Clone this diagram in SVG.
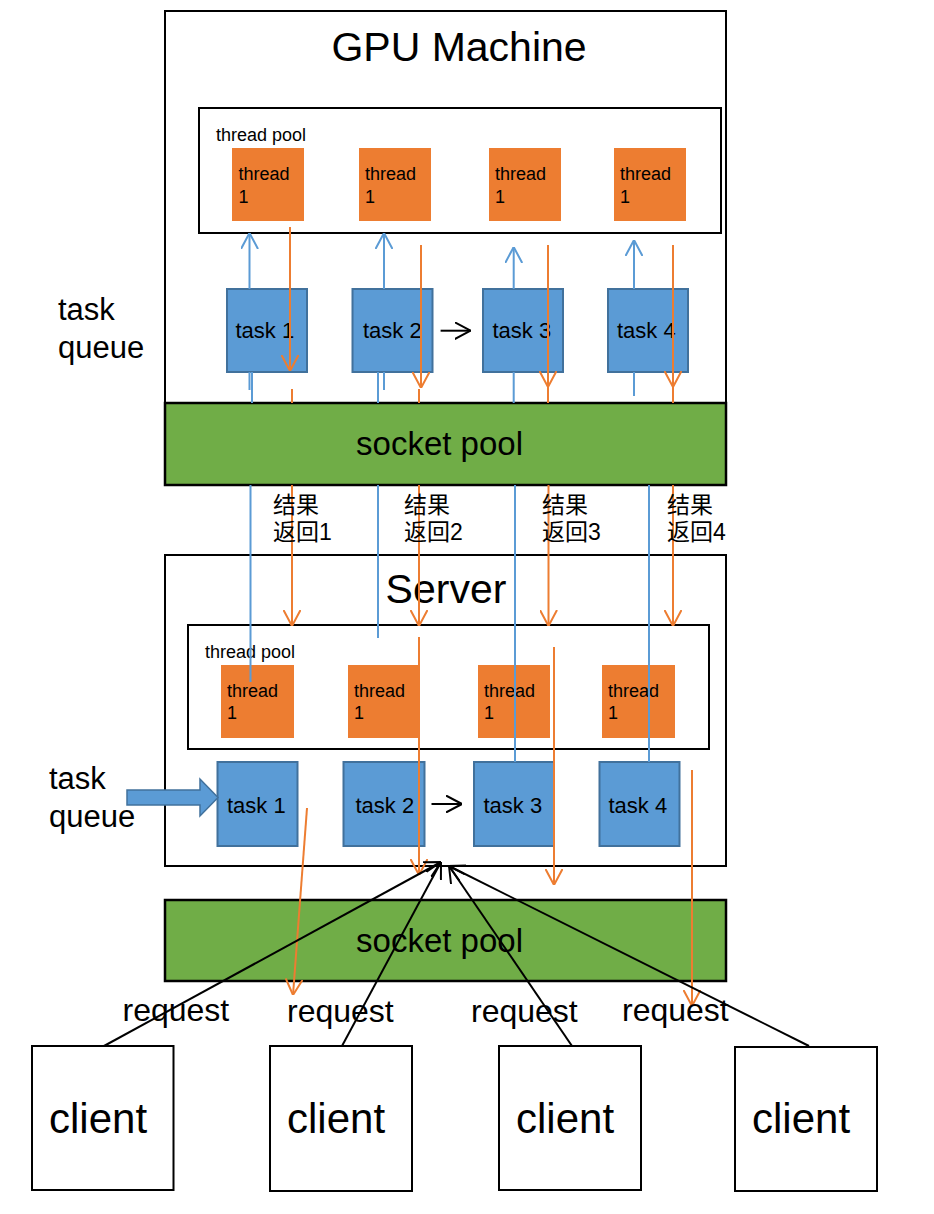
<svg xmlns="http://www.w3.org/2000/svg" width="934" height="1214" viewBox="0 0 934 1214">
<style>
text{font-family:"Liberation Sans","Noto Sans CJK SC",Arial,sans-serif;fill:#000}
.box{fill:#fff;stroke:#000;stroke-width:2}
.pool{fill:#70ad47;stroke:#000;stroke-width:2.5}
.thr{fill:#ed7d31}
.task{fill:#5b9bd5;stroke:#41719c;stroke-width:2}
.o{stroke:#ed7d31;stroke-width:2;fill:none}
.b{stroke:#5b9bd5;stroke-width:2;fill:none}
.k{stroke:#000;stroke-width:2;fill:none}
.title{font-size:41px;text-anchor:middle}
.pl{font-size:33px;text-anchor:middle}
.tp{font-size:18px}
.th{font-size:18px}
.tk{font-size:22px}
.big{font-size:31px}
.cl{font-size:42px}
.rq{font-size:32px}
.cn{font-size:23px}
</style>
<defs>
<marker id="ao" viewBox="0 0 16 18" refX="16" refY="9" markerWidth="16" markerHeight="18" markerUnits="userSpaceOnUse" orient="auto"><path d="M0,0.5 L16,9 L0,17.5" fill="none" stroke="#ed7d31" stroke-width="2"/></marker>
<marker id="ab" viewBox="0 0 16 18" refX="16" refY="9" markerWidth="16" markerHeight="18" markerUnits="userSpaceOnUse" orient="auto"><path d="M0,0.5 L16,9 L0,17.5" fill="none" stroke="#5b9bd5" stroke-width="2"/></marker>
<marker id="ak" viewBox="0 0 16 18" refX="16" refY="9" markerWidth="16" markerHeight="18" markerUnits="userSpaceOnUse" orient="auto"><path d="M0,0.5 L16,9 L0,17.5" fill="none" stroke="#000" stroke-width="2"/></marker>
</defs>

<g id="gpu-machine">
<rect class="box" x="165" y="11" width="561" height="474"/>
<text class="title" x="459" y="61">GPU Machine</text>
</g>
<g id="gpu-thread-pool">
<rect class="box" x="199" y="108" width="522" height="125"/>
<text class="tp" x="216" y="141">thread pool</text>
</g>
<g id="gpu-thread-1"><rect class="thr" x="232" y="148" width="72" height="73"/><text class="th" x="238.5" y="180">thread</text><text class="th" x="238.5" y="203">1</text></g>
<g id="gpu-thread-2"><rect class="thr" x="359" y="148" width="72" height="73"/><text class="th" x="365" y="180">thread</text><text class="th" x="365" y="203">1</text></g>
<g id="gpu-thread-3"><rect class="thr" x="489" y="148" width="72" height="73"/><text class="th" x="495" y="180">thread</text><text class="th" x="495" y="203">1</text></g>
<g id="gpu-thread-4"><rect class="thr" x="614" y="148" width="72" height="73"/><text class="th" x="620" y="180">thread</text><text class="th" x="620" y="203">1</text></g>
<g id="gpu-task-1"><rect class="task" x="227" y="289" width="80" height="83"/><text class="tk" x="235.5" y="338">task 1</text></g>
<g id="gpu-task-2"><rect class="task" x="352.5" y="289" width="80" height="83"/><text class="tk" x="363" y="338">task 2</text></g>
<g id="gpu-task-3"><rect class="task" x="483" y="289" width="80" height="83"/><text class="tk" x="492.5" y="338">task 3</text></g>
<g id="gpu-task-4"><rect class="task" x="608" y="289" width="80" height="83"/><text class="tk" x="617" y="338">task 4</text></g>
<g id="gpu-task-queue-label"><text class="big" x="58" y="320">task</text><text class="big" x="58" y="358">queue</text></g>
<g id="gpu-socket-pool"><rect class="pool" x="165" y="403" width="561" height="82"/><text class="pl" x="439.5" y="455">socket pool</text></g>

<g id="server">
<rect class="box" x="165" y="555" width="561" height="311"/>
<text class="title" x="446" y="603">Server</text>
</g>
<g id="server-thread-pool">
<rect class="box" x="188" y="625" width="521" height="124"/>
<text class="tp" x="205" y="658">thread pool</text>
</g>
<g id="server-thread-1"><rect class="thr" x="221" y="665" width="73" height="73"/><text class="th" x="227" y="697">thread</text><text class="th" x="227" y="719">1</text></g>
<g id="server-thread-2"><rect class="thr" x="348" y="665" width="72" height="73"/><text class="th" x="354" y="697">thread</text><text class="th" x="354" y="719">1</text></g>
<g id="server-thread-3"><rect class="thr" x="478" y="665" width="72" height="73"/><text class="th" x="484" y="697">thread</text><text class="th" x="484" y="719">1</text></g>
<g id="server-thread-4"><rect class="thr" x="602" y="665" width="73" height="73"/><text class="th" x="608" y="697">thread</text><text class="th" x="608" y="719">1</text></g>
<g id="server-task-1"><rect class="task" x="217.5" y="762" width="80" height="84"/><text class="tk" x="227" y="813">task 1</text></g>
<g id="server-task-2"><rect class="task" x="343.5" y="762" width="81" height="84"/><text class="tk" x="355.5" y="813">task 2</text></g>
<g id="server-task-3"><rect class="task" x="474" y="762" width="80" height="84"/><text class="tk" x="483.5" y="813">task 3</text></g>
<g id="server-task-4"><rect class="task" x="599.5" y="762" width="80" height="84"/><text class="tk" x="608.5" y="813">task 4</text></g>
<g id="server-task-queue"><text class="big" x="49" y="789">task</text><text class="big" x="49" y="827">queue</text>
<polygon points="127,790 200,790 200,779 218,797.5 200,816 200,805 127,805" fill="#5b9bd5" stroke="#41719c" stroke-width="1.5"/></g>
<g id="server-socket-pool"><rect class="pool" x="165" y="900" width="561" height="81"/><text class="pl" x="439.5" y="952">socket pool</text></g>

<g id="client-1"><rect class="box" x="32" y="1046" width="141.5" height="144"/><text class="cl" x="49" y="1133">client</text></g>
<g id="client-2"><rect class="box" x="270" y="1046" width="142" height="145"/><text class="cl" x="287" y="1133">client</text></g>
<g id="client-3"><rect class="box" x="499" y="1046" width="142" height="144"/><text class="cl" x="516" y="1133">client</text></g>
<g id="client-4"><rect class="box" x="735" y="1047" width="142" height="144"/><text class="cl" x="752" y="1133">client</text></g>

<g id="connectors">
<path class="b" d="M249.5,289 V233" marker-end="url(#ab)"/>
<path class="b" d="M384,289 V233" marker-end="url(#ab)"/>
<path class="b" d="M513.7,289 V247" marker-end="url(#ab)"/>
<path class="b" d="M634,289 V240" marker-end="url(#ab)"/>
<path class="b" d="M249.5,372 V390 M252,372 V403 M378,372 V403 M384,372 V390 M513.7,372 V403 M634,372 V396"/>
<path class="o" d="M290,227 V371" marker-end="url(#ao)"/>
<path class="o" d="M421,245 V388" marker-end="url(#ao)"/>
<path class="o" d="M548,245 V387" marker-end="url(#ao)"/>
<path class="o" d="M673,245 V387" marker-end="url(#ao)"/>
<path class="o" d="M292,389 V403 M419,389 V403 M548,387 V403 M673,387 V403"/>
<path class="k" d="M440.6,330.7 H470.6" marker-end="url(#ak)"/>

<path class="b" d="M250.5,485 V682 M378,485 V638 M515,485 V762 M649,485 V762"/>
<path class="o" d="M292,485 V626" marker-end="url(#ao)"/>
<path class="o" d="M419,485 V626" marker-end="url(#ao)"/>
<path class="o" d="M548.5,485 V626" marker-end="url(#ao)"/>
<path class="o" d="M673,485 V626" marker-end="url(#ao)"/>

<path class="o" d="M419,637 V875" marker-end="url(#ao)"/>
<path class="o" d="M554,647 V885" marker-end="url(#ao)"/>
<path class="o" d="M692,770 V1006" marker-end="url(#ao)"/>
<path class="o" d="M307,808 L293,995" marker-end="url(#ao)"/>
<path class="k" d="M431.5,804 H462" marker-end="url(#ak)"/>

<path class="k" d="M104,1046 L441,862" marker-end="url(#ak)"/>
<path class="k" d="M342,1046 L441,862" marker-end="url(#ak)"/>
<path class="k" d="M572,1046 L449,866" marker-end="url(#ak)"/>
<path class="k" d="M809,1046 L449,866" marker-end="url(#ak)"/>
</g>

<g id="labels">
<text class="cn" x="273" y="513">结果</text><text class="cn" x="273" y="540">返回1</text>
<text class="cn" x="404" y="513">结果</text><text class="cn" x="404" y="540">返回2</text>
<text class="cn" x="542" y="513">结果</text><text class="cn" x="542" y="540">返回3</text>
<text class="cn" x="667" y="513">结果</text><text class="cn" x="667" y="540">返回4</text>
<text class="rq" x="122.5" y="1021">request</text>
<text class="rq" x="287" y="1022">request</text>
<text class="rq" x="471" y="1022">request</text>
<text class="rq" x="622" y="1021">request</text>
</g>
</svg>
